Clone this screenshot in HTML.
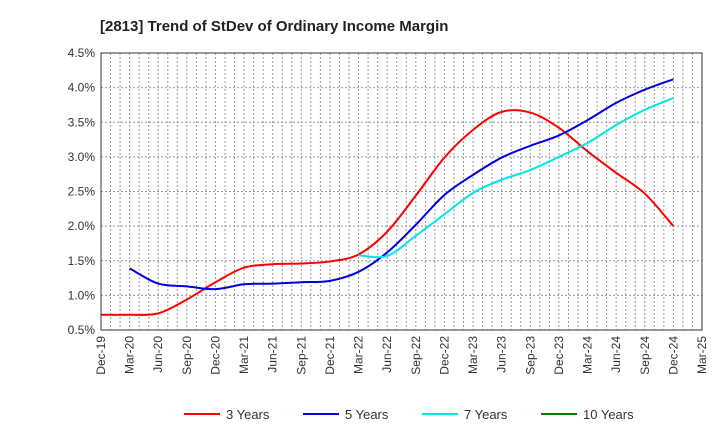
<!DOCTYPE html>
<html><head><meta charset="utf-8"><style>
body{margin:0;background:#fff;font-family:"Liberation Sans",sans-serif}
</style></head><body>
<svg id="chart" width="720" height="440" xmlns="http://www.w3.org/2000/svg" font-family="Liberation Sans, sans-serif">
<text x="100" y="31" font-size="15" font-weight="bold" fill="#222">[2813]  Trend of StDev of Ordinary Income Margin</text>
<g id="grid"></g><g id="axes"></g><g id="series"></g>
<rect x="101" y="53" width="601" height="277" fill="none" stroke="#333" stroke-width="1"/>
<g id="legend"></g>
</svg>
<script>
const xLabels=["Dec-19","Mar-20","Jun-20","Sep-20","Dec-20","Mar-21","Jun-21","Sep-21","Dec-21","Mar-22","Jun-22","Sep-22","Dec-22","Mar-23","Jun-23","Sep-23","Dec-23","Mar-24","Jun-24","Sep-24","Dec-24","Mar-25"];
const yTicks=[0.5,1.0,1.5,2.0,2.5,3.0,3.5,4.0,4.5];
const seriesNames=["3 Years","5 Years","7 Years","10 Years"];
const seriesColors=["#ff0000","#0000e0","#00e5e5","#008000"];
const s3=[0.72,0.72,0.74,0.94,1.19,1.40,1.45,1.46,1.49,1.59,1.92,2.44,2.99,3.39,3.65,3.64,3.42,3.08,2.77,2.47,2.0];
const s5=[null,1.39,1.17,1.13,1.09,1.16,1.17,1.19,1.21,1.34,1.62,2.02,2.45,2.74,2.99,3.16,3.31,3.53,3.78,3.97,4.12];
const s7=[null,null,null,null,null,null,null,null,null,1.58,1.57,1.86,2.17,2.48,2.67,2.81,3.0,3.2,3.46,3.68,3.85];
const s10=[];
const X0=101,X1=702,Y0=330,Y1=53;
const xs=i=>X0+(X1-X0)*i/21;
const ys=v=>Y0-(v-0.5)/4*(Y0-Y1);
const NS="http://www.w3.org/2000/svg";
function mk(t,a,p){const e=document.createElementNS(NS,t);for(const k in a)e.setAttribute(k,a[k]);p.appendChild(e);return e;}
const grid=document.getElementById('grid'),axes=document.getElementById('axes'),ser=document.getElementById('series'),leg=document.getElementById('legend');
for(let m=1;m<63;m++){const x=X0+(X1-X0)*m/63;const l=mk('line',{x1:x,x2:x,y1:Y1,y2:Y0,stroke:'#999','stroke-dasharray':'2,2','stroke-width':1},grid);

}
yTicks.forEach(v=>{const y=ys(v);const l=mk('line',{x1:X0,x2:X1,y1:y,y2:y,stroke:'#999','stroke-dasharray':'2,2'},grid);


const t=mk('text',{x:X0-6,y:y+4,'text-anchor':'end','font-size':12,fill:'#333'},axes);t.textContent=v.toFixed(1)+'%';

});
xLabels.forEach((s,i)=>{const x=xs(i);const t=mk('text',{transform:`translate(${x+4},${Y0+6}) rotate(-90)`,'text-anchor':'end','font-size':12,fill:'#333'},axes);t.textContent=s;

});
function path(arr){const p=[];arr.forEach((v,i)=>{if(v!=null)p.push([xs(i),ys(v)]);});if(p.length<2)return '';
let d=`M${p[0][0]},${p[0][1]}`;for(let i=0;i<p.length-1;i++){const a=p[Math.max(0,i-1)],b=p[i],c=p[i+1],e=p[Math.min(p.length-1,i+2)];
d+=` C${b[0]+(c[0]-a[0])/6},${b[1]+(c[1]-a[1])/6} ${c[0]-(e[0]-b[0])/6},${c[1]-(e[1]-b[1])/6} ${c[0]},${c[1]}`;}return d;}
[s3,s5,s7,s10].forEach((arr,k)=>{const d=path(arr);if(!d)return;const l=mk('path',{d,fill:'none',stroke:seriesColors[k],'stroke-width':2},ser);

});
const lx=[184,303,422,541];
seriesNames.forEach((n,k)=>{const g=mk('g',{},leg);


mk('line',{x1:lx[k],x2:lx[k]+36,y1:414,y2:414,stroke:seriesColors[k],'stroke-width':2},g);
const t=mk('text',{x:lx[k]+42,y:419,'font-size':13,fill:'#333'},g);t.textContent=n;});
</script>
</body></html>
